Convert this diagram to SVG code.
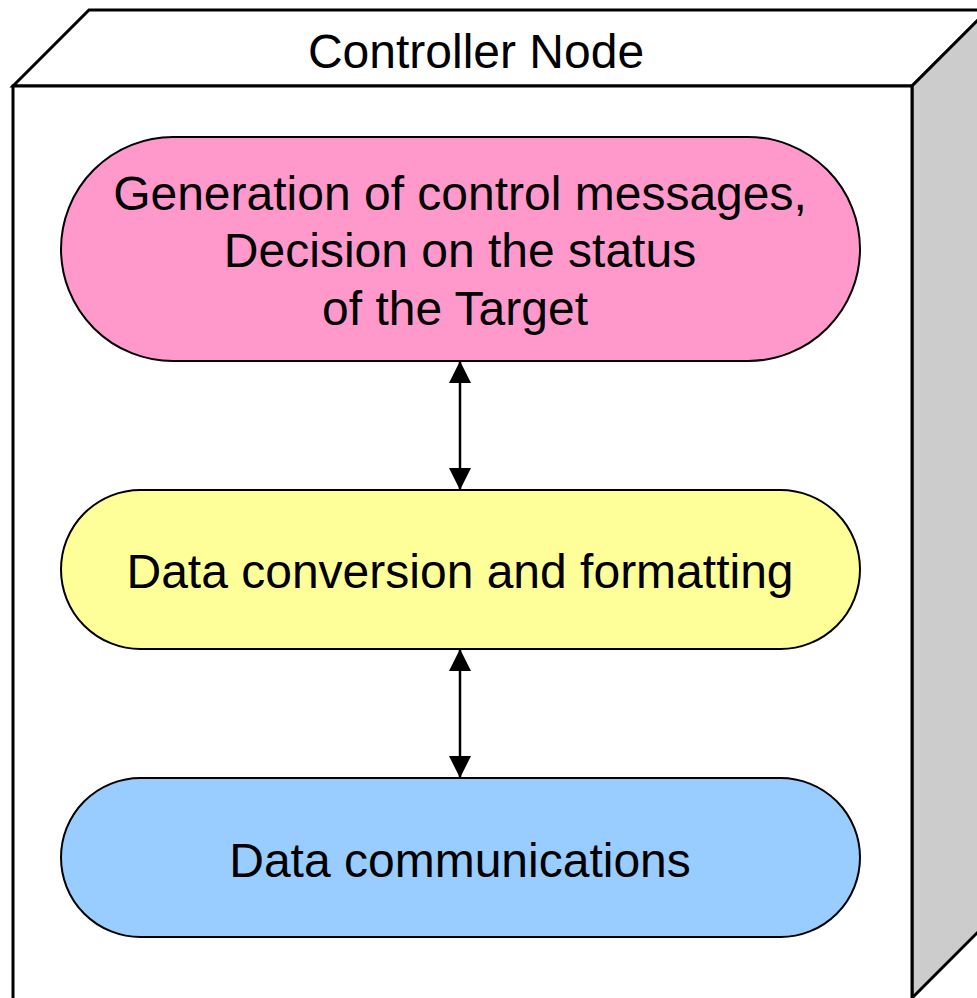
<svg xmlns="http://www.w3.org/2000/svg" width="977" height="998" viewBox="0 0 977 998">
  <style>
    .box { stroke: #000; stroke-width: 3; stroke-linejoin: miter; }
    .pill { stroke: #000; stroke-width: 2; }
    .label { font-family: "Liberation Sans", Arial, sans-serif; font-size: 48px; fill: #000; text-anchor: middle; }
    .link { stroke: #000; stroke-width: 2.5; fill: none; marker-start: url(#head); marker-end: url(#head); }
  </style>
  <defs>
    <marker id="head" viewBox="0 0 22 22" refX="21" refY="11" markerWidth="22" markerHeight="22" markerUnits="userSpaceOnUse" orient="auto-start-reverse">
      <path d="M0,0 L22,11 L0,22 Z" fill="#000"/>
    </marker>
  </defs>

  <!-- 3D node box: top face, shaded side face, front face -->
  <g id="controller-node">
    <polygon class="box" points="13,86 89,10 988,10 912,86" fill="#fff"/>
    <polygon class="box" points="912,86 988,10 988,922 912,998" fill="#ccc"/>
    <rect class="box" x="13" y="86" width="899" height="920" fill="#fff"/>
    <text class="label" x="476" y="68">Controller Node</text>
  </g>

  <g id="control-logic">
    <rect class="pill" x="61" y="137" width="799" height="224" rx="112" ry="112" fill="#ff99cc"/>
    <text class="label" x="460" y="210">Generation of control messages,</text>
    <text class="label" x="460" y="267">Decision on the status</text>
    <text class="label" x="455" y="325">of the Target</text>
  </g>

  <g id="data-conversion">
    <rect class="pill" x="61" y="490" width="799" height="159" rx="79.5" ry="79.5" fill="#ffff99"/>
    <text class="label" x="460" y="588">Data conversion and formatting</text>
  </g>

  <g id="data-comms">
    <rect class="pill" x="61" y="778" width="799" height="159" rx="79.5" ry="79.5" fill="#99ccff"/>
    <text class="label" x="460" y="877">Data communications</text>
  </g>

  <g id="connectors">
    <line class="link" x1="460" y1="362" x2="460" y2="489"/>
    <line class="link" x1="460" y1="650" x2="460" y2="777"/>
  </g>
</svg>
